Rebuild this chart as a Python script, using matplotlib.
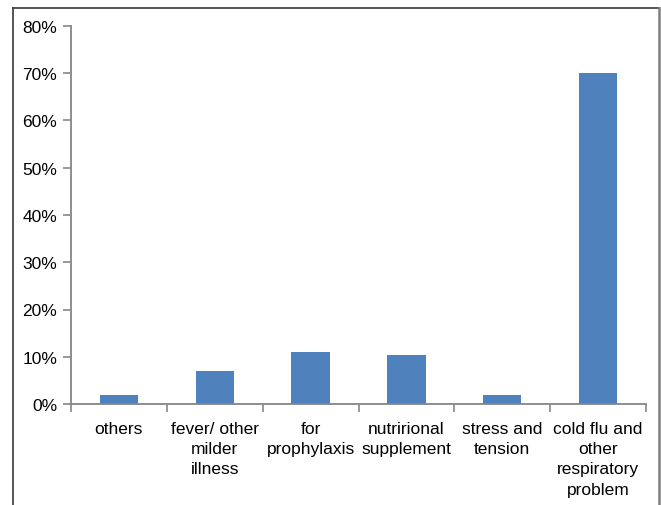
import matplotlib
matplotlib.use("Agg")
import matplotlib.pyplot as plt
from matplotlib.lines import Line2D
from matplotlib.ticker import PercentFormatter, FixedLocator

categories = ["others", "fever/ other\nmilder\nillness", "for\nprophylaxis",
              "nutrirional\nsupplement", "stress and\ntension",
              "cold flu and\nother\nrespiratory\nproblem"]
values = [2, 7, 11, 10.3, 2, 70]
y_ticks = [0, 10, 20, 30, 40, 50, 60, 70, 80]

plt.rcParams["font.family"] = ["Liberation Sans", "DejaVu Sans"]
plt.rcParams["font.size"] = 12.5

W, H = 661, 506
fig = plt.figure(figsize=(W / 100, H / 100), dpi=100)
ax = fig.add_axes([71 / W, 1 - 405 / H, (646 - 71) / W, (405 - 27) / H])

x = range(len(categories))
ax.bar(x, values, width=0.4, color="#4F81BD", zorder=2)

axis_col = "#868686"
ax.set_xlim(-0.5, len(categories) - 0.5)
ax.set_ylim(0, 80)
ax.yaxis.set_major_locator(FixedLocator(y_ticks))
ax.yaxis.set_major_formatter(PercentFormatter(decimals=0))

ax.set_xticks(list(x))
ax.set_xticklabels(categories, linespacing=1.45)
ax.set_xticks([i - 0.5 for i in range(len(categories) + 1)], minor=True)
ax.tick_params(axis="x", which="major", length=0, pad=12)
ax.tick_params(axis="x", which="minor", length=6, width=1.2, color=axis_col, direction="out")
ax.tick_params(axis="y", length=6, width=1.2, color=axis_col, pad=4)
ax.tick_params(axis="both", labelcolor="#000000", labelsize=12.5)

for s in ("top", "right"):
    ax.spines[s].set_visible(False)
for s in ("left", "bottom"):
    ax.spines[s].set_color(axis_col)
    ax.spines[s].set_linewidth(1.3)

# outer frame
def fx(px):
    return px / W

def fy(py):
    return 1 - py / H

fig.add_artist(Line2D([fx(13), fx(13)], [fy(9), 0], color="#3a3a3a", lw=1.2))
fig.add_artist(Line2D([fx(13), fx(658.5)], [fy(9), fy(9)], color="#3a3a3a", lw=1.2))
fig.add_artist(Line2D([fx(658.5), fx(658.5)], [fy(9), 0], color="#7f7f7f", lw=1.8))

fig.savefig("out.png", dpi=100)
